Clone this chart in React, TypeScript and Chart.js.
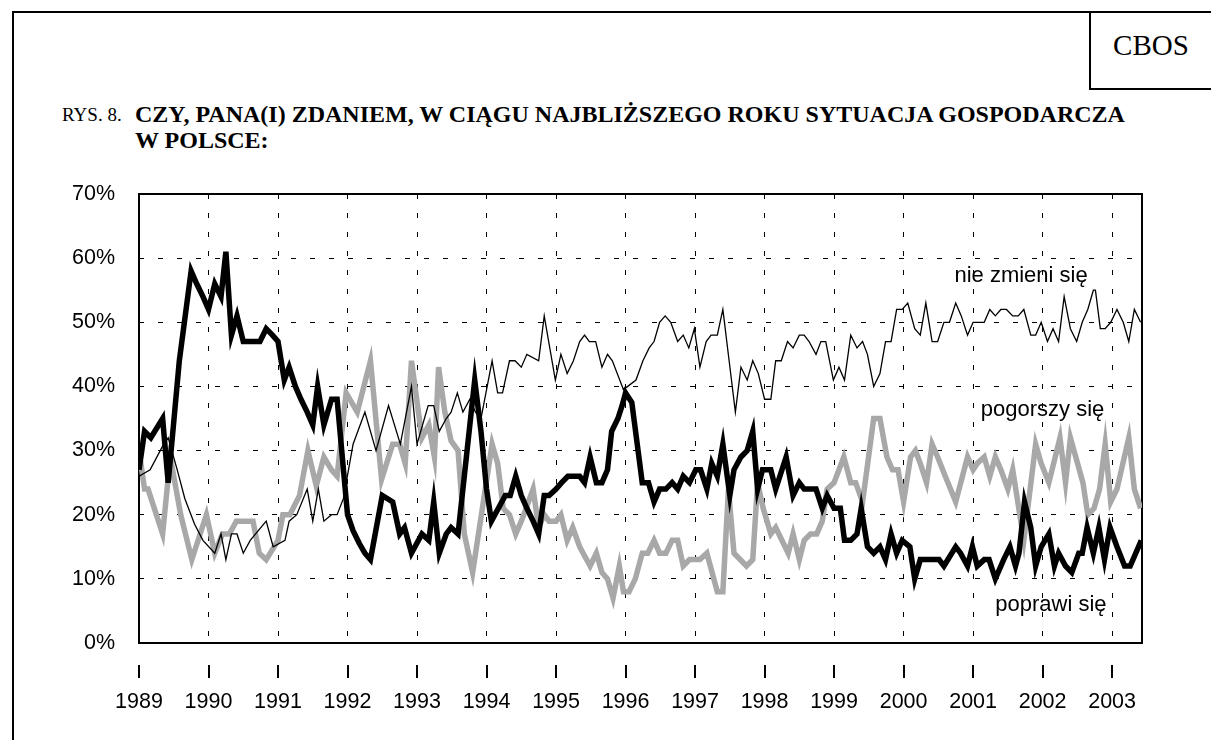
import React, { useEffect, useRef } from "react";
import { Chart, registerables } from "chart.js";
Chart.register(...registerables);

// "poprawi się" – thick black line
const poprawiX = [1989.0, 1989.08, 1989.17, 1989.34, 1989.42, 1989.58, 1989.75, 1989.83, 1989.92, 1990.0, 1990.09, 1990.18, 1990.25, 1990.33, 1990.41, 1990.5, 1990.74, 1990.83, 1990.92, 1991.0, 1991.09, 1991.16, 1991.25, 1991.33, 1991.42, 1991.5, 1991.57, 1991.66, 1991.77, 1991.85, 1992.0, 1992.08, 1992.17, 1992.25, 1992.33, 1992.5, 1992.65, 1992.75, 1992.82, 1992.92, 1993.07, 1993.17, 1993.24, 1993.32, 1993.42, 1993.49, 1993.59, 1993.67, 1993.75, 1993.83, 1993.92, 1994.0, 1994.07, 1994.27, 1994.34, 1994.42, 1994.5, 1994.58, 1994.67, 1994.75, 1994.83, 1994.9, 1995.0, 1995.08, 1995.17, 1995.25, 1995.34, 1995.41, 1995.49, 1995.58, 1995.66, 1995.74, 1995.8, 1995.89, 1995.95, 1996.0, 1996.09, 1996.24, 1996.33, 1996.41, 1996.49, 1996.58, 1996.67, 1996.75, 1996.83, 1996.92, 1997.01, 1997.08, 1997.17, 1997.24, 1997.32, 1997.4, 1997.5, 1997.56, 1997.66, 1997.75, 1997.83, 1997.9, 1997.97, 1998.09, 1998.16, 1998.31, 1998.41, 1998.5, 1998.57, 1998.74, 1998.83, 1998.9, 1999.0, 1999.09, 1999.15, 1999.24, 1999.33, 1999.39, 1999.48, 1999.57, 1999.66, 1999.74, 1999.82, 1999.9, 1999.98, 2000.09, 2000.16, 2000.24, 2000.51, 2000.58, 2000.75, 2000.82, 2000.92, 2000.99, 2001.06, 2001.16, 2001.23, 2001.32, 2001.44, 2001.53, 2001.61, 2001.66, 2001.74, 2001.83, 2001.9, 2001.98, 2002.09, 2002.17, 2002.23, 2002.33, 2002.42, 2002.52, 2002.57, 2002.64, 2002.73, 2002.81, 2002.89, 2002.97, 2003.07, 2003.18, 2003.26, 2003.42];
const poprawiY = [27, 33, 32, 35, 25, 44, 58, 56, 54, 52, 56, 54, 61, 48, 51, 47, 47, 49, 48, 47, 41, 43, 40, 38, 36, 34, 40, 34, 38, 38, 20, 17.5, 15.5, 14, 13, 23, 22, 17, 18, 14, 17, 16, 22, 14, 17, 18, 17, 25, 33, 41, 33, 24, 19, 23, 23, 26, 23, 21, 19, 17, 23, 23, 24, 25, 26, 26, 26, 25, 29, 25, 25, 27, 33, 35, 37, 39, 37.5, 25, 25, 22, 24, 24, 25, 24, 26, 25, 27, 27, 24, 28, 26, 31, 23, 27, 29, 30, 33, 24, 27, 27, 24, 29, 23, 25, 24, 24, 21, 23, 21, 21, 16, 16, 17, 21, 15, 14, 15, 13, 17, 14, 16, 15, 10, 13, 13, 12, 15, 14, 12, 15, 12, 13, 13, 10, 13, 15, 12, 14, 22, 18, 12, 15, 17, 12, 14, 12, 11, 14, 14, 18, 14, 18, 13, 18, 15, 12, 12, 16];

// "pogorszy się" – thick grey line
const pogorszyX = [1989.0, 1989.08, 1989.13, 1989.34, 1989.45, 1989.6, 1989.76, 1989.97, 1990.09, 1990.2, 1990.3, 1990.4, 1990.64, 1990.73, 1990.83, 1991.0, 1991.07, 1991.17, 1991.31, 1991.43, 1991.55, 1991.66, 1991.77, 1991.85, 1991.98, 1992.14, 1992.33, 1992.49, 1992.65, 1992.75, 1992.83, 1992.92, 1993.07, 1993.17, 1993.25, 1993.31, 1993.4, 1993.49, 1993.59, 1993.68, 1993.8, 1994.08, 1994.16, 1994.24, 1994.33, 1994.42, 1994.5, 1994.57, 1994.67, 1994.75, 1994.83, 1994.9, 1995.0, 1995.07, 1995.16, 1995.24, 1995.34, 1995.49, 1995.58, 1995.66, 1995.74, 1995.82, 1995.91, 1995.97, 1996.05, 1996.14, 1996.24, 1996.32, 1996.41, 1996.49, 1996.58, 1996.67, 1996.75, 1996.83, 1996.92, 1997.07, 1997.17, 1997.32, 1997.4, 1997.48, 1997.56, 1997.74, 1997.83, 1997.9, 1997.98, 1998.09, 1998.16, 1998.34, 1998.41, 1998.5, 1998.57, 1998.66, 1998.75, 1998.83, 1998.9, 1999.0, 1999.14, 1999.24, 1999.31, 1999.41, 1999.57, 1999.66, 1999.76, 1999.84, 1999.92, 2000.0, 2000.1, 2000.17, 2000.24, 2000.33, 2000.41, 2000.49, 2000.6, 2000.75, 2000.92, 2001.0, 2001.06, 2001.16, 2001.24, 2001.32, 2001.4, 2001.5, 2001.57, 2001.73, 2001.9, 2001.98, 2002.09, 2002.25, 2002.33, 2002.4, 2002.58, 2002.65, 2002.74, 2002.82, 2002.9, 2002.98, 2003.07, 2003.24, 2003.32, 2003.41];
const pogorszyY = [30, 24, 24, 17, 29, 20, 13, 20, 14, 17, 17, 19, 19, 14, 13, 16, 20, 20, 23, 30, 24.5, 29, 27, 26, 39, 36, 44, 25.5, 31, 31, 28, 44, 32, 34, 29, 43, 36, 31.5, 30, 17, 11, 31, 28, 21, 20, 17, 19, 21, 24, 18, 20, 19, 19, 20, 16, 18, 15, 12, 14, 11, 10, 7, 12, 8, 8, 10, 14, 14, 16, 14, 14, 16, 16, 12, 13, 13, 14, 8, 8, 24, 14, 12, 13, 25, 21, 17, 18, 14, 17, 13, 16, 17, 17, 19, 24, 25, 29, 25, 25, 22, 35, 35, 29, 27, 27, 22, 29, 30, 28, 25, 31, 29, 26, 22, 29, 27, 28, 29, 26, 29, 27, 24, 27, 16, 31, 28, 25, 32, 25, 32, 25, 20, 21, 24, 31, 22, 24, 32, 24, 21];

// "nie zmieni się" – thin black line
const nieZmieniX = [1989.0, 1989.16, 1989.33, 1989.42, 1989.55, 1989.66, 1989.8, 1989.92, 1990.09, 1990.18, 1990.25, 1990.33, 1990.41, 1990.5, 1990.6, 1990.83, 1990.93, 1991.1, 1991.16, 1991.27, 1991.42, 1991.5, 1991.58, 1991.66, 1991.77, 1991.85, 1991.94, 1992.08, 1992.25, 1992.41, 1992.59, 1992.76, 1992.92, 1993.0, 1993.16, 1993.24, 1993.32, 1993.42, 1993.49, 1993.58, 1993.66, 1993.76, 1993.84, 1993.92, 1994.08, 1994.16, 1994.23, 1994.33, 1994.41, 1994.5, 1994.58, 1994.75, 1994.83, 1994.99, 1995.07, 1995.16, 1995.25, 1995.34, 1995.41, 1995.48, 1995.57, 1995.66, 1995.74, 1995.81, 1995.97, 1996.15, 1996.25, 1996.34, 1996.41, 1996.49, 1996.57, 1996.65, 1996.75, 1996.83, 1996.91, 1996.99, 1997.07, 1997.16, 1997.23, 1997.32, 1997.4, 1997.49, 1997.58, 1997.66, 1997.75, 1997.83, 1997.91, 1998.0, 1998.09, 1998.16, 1998.24, 1998.33, 1998.41, 1998.5, 1998.57, 1998.64, 1998.74, 1998.81, 1998.88, 1998.99, 1999.07, 1999.15, 1999.24, 1999.33, 1999.41, 1999.48, 1999.57, 1999.66, 1999.74, 1999.82, 1999.9, 1999.98, 2000.06, 2000.16, 2000.24, 2000.32, 2000.41, 2000.49, 2000.58, 2000.66, 2000.75, 2000.83, 2000.92, 2001.0, 2001.16, 2001.24, 2001.32, 2001.4, 2001.48, 2001.57, 2001.65, 2001.73, 2001.83, 2001.9, 2001.98, 2002.07, 2002.15, 2002.23, 2002.31, 2002.4, 2002.49, 2002.57, 2002.65, 2002.73, 2002.76, 2002.83, 2002.9, 2002.98, 2003.07, 2003.16, 2003.24, 2003.32, 2003.41];
const nieZmieniY = [26, 27, 30.5, 32, 27, 22.5, 18.5, 16, 14, 17, 13, 17, 17, 14, 16, 19, 15, 16, 19, 20, 24, 19, 24, 19, 20, 20, 22.5, 31, 36, 30, 37, 31, 40, 31, 37, 37, 33, 35, 36, 39, 36, 38, 36, 35, 44, 39, 39, 44, 44, 43, 45, 44, 51, 41, 45, 42, 44, 47, 48, 47, 47, 43, 45, 44, 39.5, 41, 44, 46, 47, 50, 51, 50, 47, 48, 46, 49, 43, 47, 48, 48, 52, 44, 36, 43, 41, 44, 42, 38, 38, 44, 44, 47, 46, 48, 48, 47, 45, 47, 47, 41, 43, 41, 48, 46, 47, 45, 40, 42, 47, 47, 52, 52, 53, 49, 48, 53, 47, 47, 50, 50, 53, 51, 48, 50, 50, 52, 51, 52, 52, 51, 51, 52, 48, 48, 50, 47, 49, 47, 54, 49, 47, 50, 52, 55, 55, 49, 49, 50, 52, 50, 47, 52, 50];

const yearTicks = [1989, 1990, 1991, 1992, 1993, 1994, 1995, 1996, 1997, 1998, 1999, 2000, 2001, 2002, 2003];
const seriesLabels = ["nie zmieni się", "pogorszy się", "poprawi się"];
const labelX = [2001.69, 2002.0, 2002.12];
const labelY = [57.3, 36.4, 5.9];

const SANS = "'Liberation Sans', Arial, sans-serif";
const SERIF = "'Liberation Serif', 'Times New Roman', serif";

function toPoints(xs: number[], ys: number[]) {
  return xs.map((x, i) => ({ x, y: ys[i] }));
}

export default function App() {
  const canvasRef = useRef<HTMLCanvasElement | null>(null);

  useEffect(() => {
    if (!canvasRef.current) return;

    const framePlugin = {
      id: "frame",
      beforeDatasetsDraw(chart: any) {
        const { ctx, chartArea } = chart;
        ctx.save();
        ctx.strokeStyle = "#000";
        ctx.lineWidth = 2;
        ctx.strokeRect(chartArea.left, chartArea.top, chartArea.right - chartArea.left, chartArea.bottom - chartArea.top);
        ctx.restore();
      },
      afterDraw(chart: any) {
        const { ctx, chartArea } = chart;
        const xs = chart.scales.x;
        const ys = chart.scales.y;
        ctx.save();
        ctx.strokeStyle = "#000";
        ctx.lineWidth = 2;
        yearTicks.forEach((yr) => {
          const px = Math.round(xs.getPixelForValue(yr));
          ctx.beginPath();
          ctx.moveTo(px, chartArea.bottom + 22);
          ctx.lineTo(px, chartArea.bottom + 35);
          ctx.stroke();
        });
        ctx.fillStyle = "#000";
        ctx.font = "22px " + SANS;
        ctx.textAlign = "center";
        ctx.textBaseline = "middle";
        seriesLabels.forEach((t, i) => {
          ctx.fillText(t, xs.getPixelForValue(labelX[i]), ys.getPixelForValue(labelY[i]));
        });
        ctx.restore();
      },
    };

    const chart = new Chart(canvasRef.current, {
      type: "line",
      data: {
        datasets: [
          {
            label: seriesLabels[0],
            data: toPoints(nieZmieniX, nieZmieniY),
            borderColor: "#000",
            borderWidth: 1.3,
            pointRadius: 0,
            tension: 0,
          },
          {
            label: seriesLabels[2],
            data: toPoints(poprawiX, poprawiY),
            borderColor: "#000",
            borderWidth: 5.5,
            pointRadius: 0,
            tension: 0,
          },
          {
            label: seriesLabels[1],
            data: toPoints(pogorszyX, pogorszyY),
            borderColor: "#a8a8a8",
            borderWidth: 5.5,
            pointRadius: 0,
            tension: 0,
          },
        ],
      },
      options: {
        animation: false,
        responsive: true,
        maintainAspectRatio: false,
        layout: { padding: { top: 194, right: 69, left: 0, bottom: 0 } },
        plugins: { legend: { display: false }, tooltip: { enabled: false } },
        scales: {
          x: {
            type: "linear",
            min: 1989,
            max: 2003.43,
            afterFit: (s: any) => {
              s.height = 97;
            },
            border: { display: false, dash: [5, 14] },
            grid: { color: "#000", lineWidth: 1, drawTicks: false },
            ticks: {
              stepSize: 1,
              includeBounds: false,
              autoSkip: false,
              maxRotation: 0,
              padding: 46,
              color: "#000",
              font: { family: SANS, size: 21.5 },
              callback: (v: any) => String(v),
            },
          },
          y: {
            min: 0,
            max: 70,
            afterFit: (s: any) => {
              s.width = 139;
            },
            border: { display: false, dash: [5, 14] },
            grid: { color: "#000", lineWidth: 1, drawTicks: false },
            ticks: {
              stepSize: 10,
              padding: 24,
              color: "#000",
              font: { family: SANS, size: 21.5 },
              callback: (v: any) => v + "%",
            },
          },
        },
      },
      plugins: [framePlugin],
    });

    return () => chart.destroy();
  }, []);

  return (
    <div style={{ position: "fixed", left: 0, top: 0, width: 1211, height: 740, background: "#fff", overflow: "hidden" }}>
      <div style={{ position: "absolute", left: 12, top: 11, width: 1300, height: 800, borderTop: "2px solid #000", borderLeft: "2px solid #000" }} />
      <div style={{ position: "absolute", left: 1089, top: 11, width: 200, height: 77, borderLeft: "2px solid #000", borderBottom: "2px solid #000" }} />
      <div style={{ position: "absolute", left: 1091, top: 8, width: 120, height: 75, display: "flex", alignItems: "center", justifyContent: "center", fontFamily: SERIF, fontSize: 29, color: "#000" }}>CBOS</div>
      <div style={{ position: "absolute", left: 62, top: 102, fontFamily: SERIF, fontSize: 19, lineHeight: "26px", color: "#000", whiteSpace: "nowrap" }}>RYS. 8.</div>
      <div style={{ position: "absolute", left: 135, top: 101, fontFamily: SERIF, fontSize: 24, fontWeight: "bold", lineHeight: "26px", color: "#000", whiteSpace: "nowrap" }}>
        CZY, PANA(I) ZDANIEM, W CIĄGU NAJBLIŻSZEGO ROKU SYTUACJA GOSPODARCZA
        <br />
        W POLSCE:
      </div>
      <div style={{ position: "absolute", left: 0, top: 0, width: 1211, height: 740 }}>
        <canvas ref={canvasRef} />
      </div>
    </div>
  );
}
